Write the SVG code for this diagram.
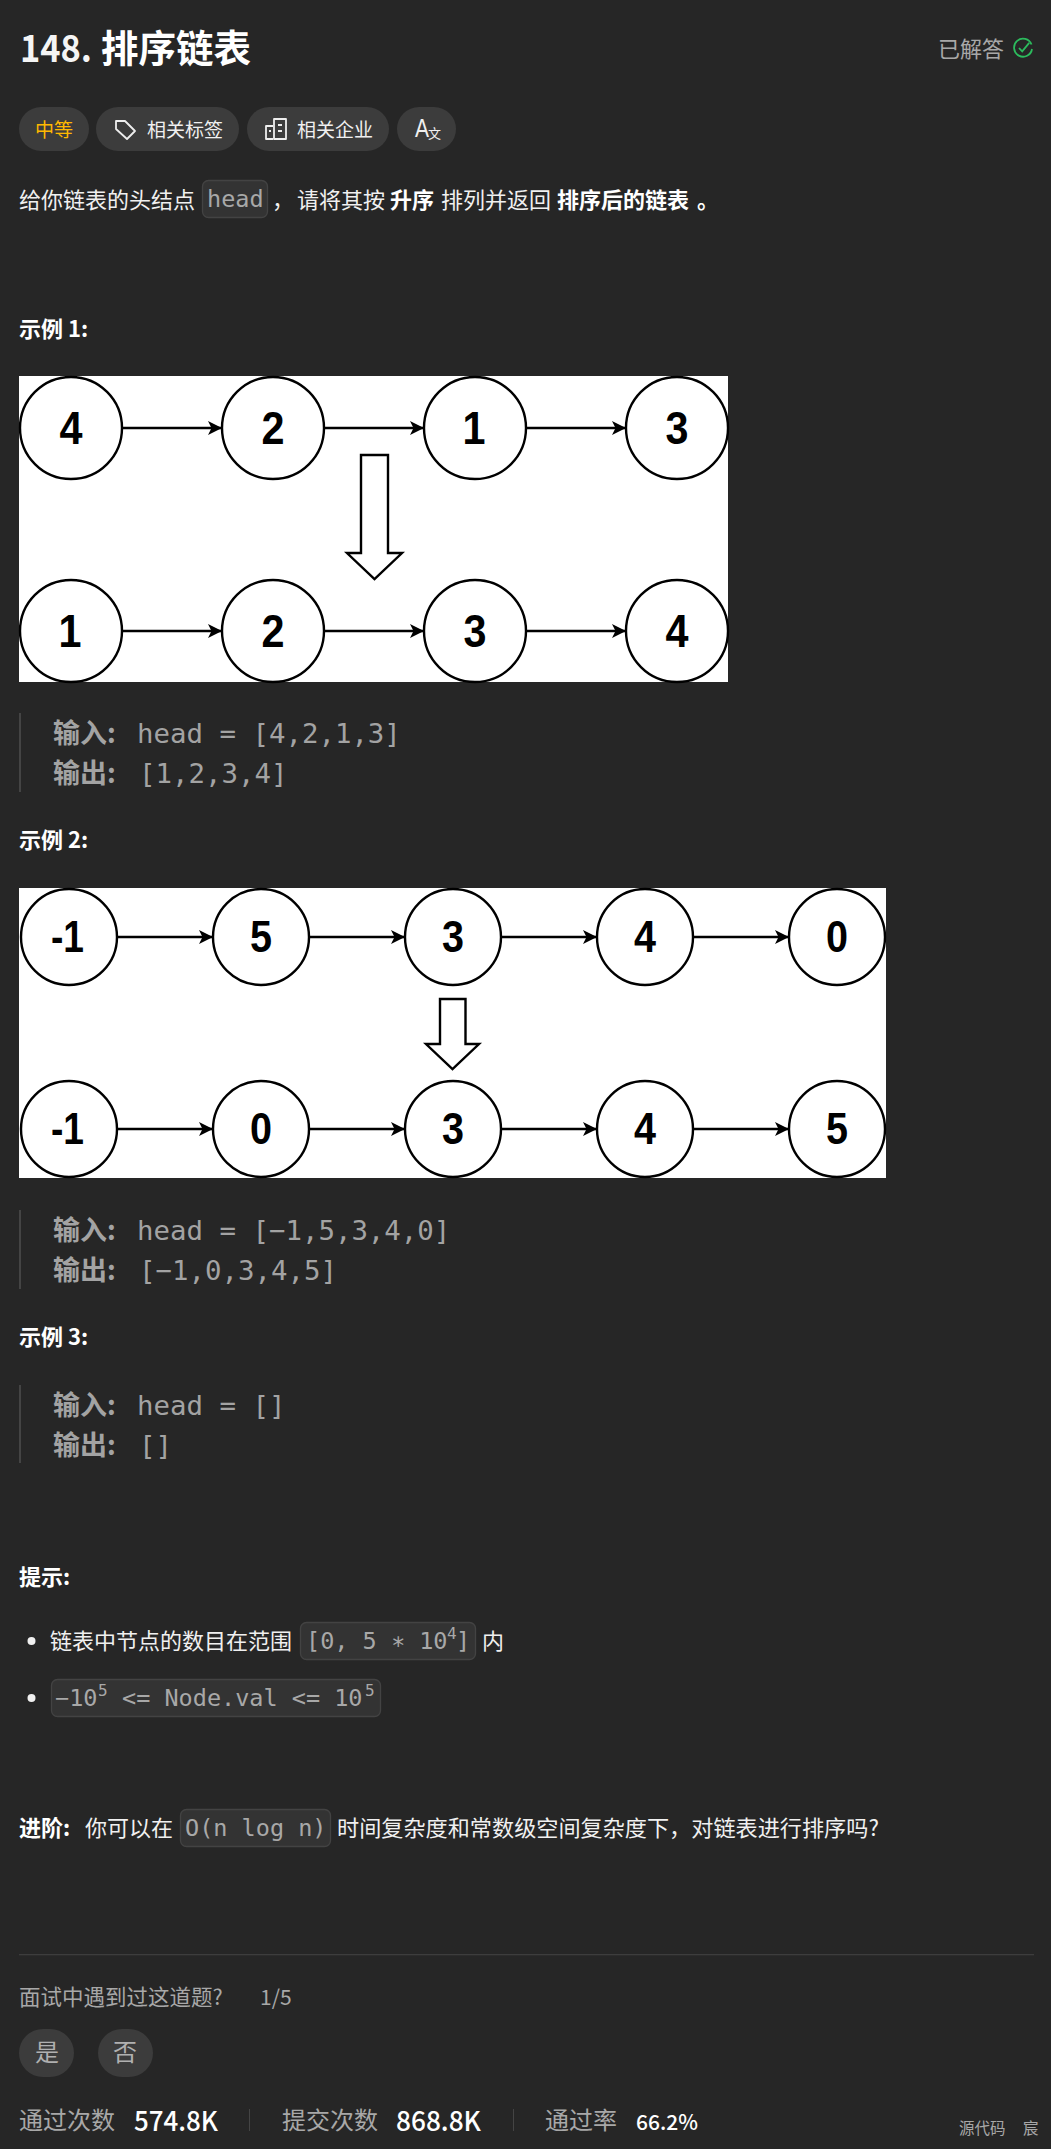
<svg xmlns="http://www.w3.org/2000/svg" width="1051" height="2149" viewBox="0 0 1051 2149">
<style>
text{font-family:"Noto Sans CJK SC","Noto Sans",sans-serif;fill:#f0f0f0;font-size:22px}
.b{font-weight:700;fill:#fff}
.m{font-family:"DejaVu Sans Mono","Liberation Mono",monospace}
.q{font-size:27.400px;fill:#a3a3a3}
.qb{font-size:27px;fill:#a3a3a3;font-weight:700}
.code{fill:#333;stroke:#434343;stroke-width:1.3}
.cm{font-family:"DejaVu Sans Mono","Liberation Mono",monospace;font-size:23.500px;fill:#a8a8a8}
.sup{font-family:"DejaVu Sans Mono","Liberation Mono",monospace;font-size:16px;fill:#a8a8a8}
.pill{fill:#3c3c3c}
.n{fill:#fff;stroke:#000;stroke-width:2.4}
.t1{font-family:"Liberation Sans",Arial,sans-serif;font-weight:700;font-size:46px;fill:#000;text-anchor:middle}
.t2{font-family:"Liberation Sans",Arial,sans-serif;font-weight:700;font-size:44px;fill:#000;text-anchor:middle}
.c{stroke:#000;stroke-width:2.4;fill:none;marker-end:url(#ah)}
.big{fill:#fff;stroke:#000;stroke-width:2.4}
.bar{fill:#444}
.ic{fill:none;stroke:#eee;stroke-width:1.8;stroke-linejoin:round}
</style>
<defs>
<marker id="ah" markerUnits="userSpaceOnUse" markerWidth="16" markerHeight="16" refX="14" refY="7" orient="auto"><path d="M0 0L14 7L0 14L3.500 7Z" fill="#000"/></marker>
</defs>
<rect width="1051" height="2149" fill="#262626"/>

<g id="header">
<text x="20" y="62" style="font-size:37px;font-weight:700;fill:#f5f5f5" textLength="72" lengthAdjust="spacingAndGlyphs">148.</text>
<text x="101" y="62" class="b" style="font-size:37.500px">排序链表</text>
<text x="938" y="57" style="font-size:22px;fill:#a8a8a8">已解答</text>
<path d="M1031.500 44.500A9 9 0 1 0 1032 49" fill="none" stroke="#2cbb5d" stroke-width="1.8"/>
<path d="M1019 48l3.200 3.400 7-8.500" fill="none" stroke="#2cbb5d" stroke-width="1.8"/>
</g>

<g id="tags">
<rect class="pill" x="19" y="107" width="70" height="44" rx="22"/>
<text x="35" y="137" style="font-size:19px;fill:#ffb800">中等</text>
<rect class="pill" x="96" y="107" width="143" height="44" rx="22"/>
<path class="ic" d="M116 121h9l10 10-8 8-11-10z"/>
<text x="147" y="137" style="font-size:19px">相关标签</text>
<rect class="pill" x="247" y="107" width="142" height="44" rx="22"/>
<path class="ic" d="M273 126h-7v13h7M274 119h12v20h-12zM278 125h4M278 131h4M269 131h2"/>
<text x="297" y="137" style="font-size:19px">相关企业</text>
<rect class="pill" x="397" y="107" width="59" height="44" rx="22"/>
<text x="415" y="137" style="font-family:'Liberation Sans',sans-serif;font-size:25px" textLength="14" lengthAdjust="spacingAndGlyphs">A</text>
<text x="428" y="138" style="font-size:13px">文</text>
</g>

<g id="intro">
<text x="19" y="208">给你链表的头结点</text>
<rect class="code" x="202.500" y="180.500" width="65" height="37" rx="6"/>
<text class="cm" x="207" y="207">head</text>
<text x="272" y="208">，</text>
<text x="297" y="208">请将其按</text>
<text x="390" y="208" class="b">升序</text>
<text x="441" y="208">排列并返回</text>
<text x="557" y="208" class="b">排序后的链表</text>
<text x="697" y="208" class="b">。</text>
</g>

<text x="19" y="337" class="b" style="font-size:22px">示例 1:</text>

<g id="figure1">
<rect x="19" y="376" width="709" height="306" fill="#fff"/>
<g id="connectors1">
<path class="c" d="M122 428H222"/><path class="c" d="M324 428H424"/><path class="c" d="M526 428H626"/>
<path class="c" d="M122 631H222"/><path class="c" d="M324 631H424"/><path class="c" d="M526 631H626"/>
</g>
<g id="n1a"><circle class="n" cx="71" cy="428" r="51"/><text class="t1" x="71" y="444" textLength="23" lengthAdjust="spacingAndGlyphs">4</text></g>
<g id="n1b"><circle class="n" cx="273" cy="428" r="51"/><text class="t1" x="273" y="444" textLength="23" lengthAdjust="spacingAndGlyphs">2</text></g>
<g id="n1c"><circle class="n" cx="475" cy="428" r="51"/><text class="t1" x="474" y="444" textLength="23" lengthAdjust="spacingAndGlyphs">1</text></g>
<g id="n1d"><circle class="n" cx="677" cy="428" r="51"/><text class="t1" x="677" y="444" textLength="23" lengthAdjust="spacingAndGlyphs">3</text></g>
<g id="n1e"><circle class="n" cx="71" cy="631" r="51"/><text class="t1" x="70" y="647" textLength="23" lengthAdjust="spacingAndGlyphs">1</text></g>
<g id="n1f"><circle class="n" cx="273" cy="631" r="51"/><text class="t1" x="273" y="647" textLength="23" lengthAdjust="spacingAndGlyphs">2</text></g>
<g id="n1g"><circle class="n" cx="475" cy="631" r="51"/><text class="t1" x="475" y="647" textLength="23" lengthAdjust="spacingAndGlyphs">3</text></g>
<g id="n1h"><circle class="n" cx="677" cy="631" r="51"/><text class="t1" x="677" y="647" textLength="23" lengthAdjust="spacingAndGlyphs">4</text></g>
<path id="down1" class="big" d="M361 455H388V553H402L374.500 579L347 553H361Z"/>
</g>

<g id="quote1">
<rect class="bar" x="19" y="713" width="2" height="79"/>
<text class="qb" x="53" y="743">输入:</text>
<text class="q m" x="137" y="743">head = [4,2,1,3]</text>
<text class="qb" x="53" y="783">输出:</text>
<text class="q m" x="139" y="783">[1,2,3,4]</text>
</g>

<text x="19" y="848" class="b" style="font-size:22px">示例 2:</text>

<g id="figure2">
<rect x="19" y="888" width="867" height="290" fill="#fff"/>
<g id="connectors2">
<path class="c" d="M117 937H213"/><path class="c" d="M309 937H405"/><path class="c" d="M501 937H597"/><path class="c" d="M693 937H789"/>
<path class="c" d="M117 1129H213"/><path class="c" d="M309 1129H405"/><path class="c" d="M501 1129H597"/><path class="c" d="M693 1129H789"/>
</g>
<g id="n2a"><circle class="n" cx="69" cy="937" r="48"/><text class="t2" x="67.500" y="952" textLength="33" lengthAdjust="spacingAndGlyphs">-1</text></g>
<g id="n2b"><circle class="n" cx="261" cy="937" r="48"/><text class="t2" x="261" y="952" textLength="22" lengthAdjust="spacingAndGlyphs">5</text></g>
<g id="n2c"><circle class="n" cx="453" cy="937" r="48"/><text class="t2" x="453" y="952" textLength="22" lengthAdjust="spacingAndGlyphs">3</text></g>
<g id="n2d"><circle class="n" cx="645" cy="937" r="48"/><text class="t2" x="645" y="952" textLength="22" lengthAdjust="spacingAndGlyphs">4</text></g>
<g id="n2e"><circle class="n" cx="837" cy="937" r="48"/><text class="t2" x="837" y="952" textLength="22" lengthAdjust="spacingAndGlyphs">0</text></g>
<g id="n2f"><circle class="n" cx="69" cy="1129" r="48"/><text class="t2" x="67.500" y="1144" textLength="33" lengthAdjust="spacingAndGlyphs">-1</text></g>
<g id="n2g"><circle class="n" cx="261" cy="1129" r="48"/><text class="t2" x="261" y="1144" textLength="22" lengthAdjust="spacingAndGlyphs">0</text></g>
<g id="n2h"><circle class="n" cx="453" cy="1129" r="48"/><text class="t2" x="453" y="1144" textLength="22" lengthAdjust="spacingAndGlyphs">3</text></g>
<g id="n2i"><circle class="n" cx="645" cy="1129" r="48"/><text class="t2" x="645" y="1144" textLength="22" lengthAdjust="spacingAndGlyphs">4</text></g>
<g id="n2j"><circle class="n" cx="837" cy="1129" r="48"/><text class="t2" x="837" y="1144" textLength="22" lengthAdjust="spacingAndGlyphs">5</text></g>
<path id="down2" class="big" d="M440 999H465.500V1044H479L452.500 1069L426 1044H440Z"/>
</g>

<g id="quote2">
<rect class="bar" x="19" y="1210" width="2" height="79"/>
<text class="qb" x="53" y="1240">输入:</text>
<text class="q m" x="137" y="1240">head = [−1,5,3,4,0]</text>
<text class="qb" x="53" y="1280">输出:</text>
<text class="q m" x="139" y="1280">[−1,0,3,4,5]</text>
</g>

<text x="19" y="1345" class="b" style="font-size:22px">示例 3:</text>

<g id="quote3">
<rect class="bar" x="19" y="1385" width="2" height="78"/>
<text class="qb" x="53" y="1415">输入:</text>
<text class="q m" x="137" y="1415">head = []</text>
<text class="qb" x="53" y="1455">输出:</text>
<text class="q m" x="139" y="1455">[]</text>
</g>

<text x="19" y="1585" class="b" style="font-size:22px">提示:</text>

<g id="hints">
<circle cx="31.500" cy="1641" r="4" fill="#f0f0f0"/>
<text x="50" y="1649">链表中节点的数目在范围</text>
<rect class="code" x="300.500" y="1622.500" width="175" height="37" rx="6"/>
<text class="cm" x="306" y="1649">[0, 5 ∗ 10</text>
<text class="sup" x="447" y="1639">4</text>
<text class="cm" x="456" y="1649">]</text>
<text x="482" y="1649">内</text>
<circle cx="31.500" cy="1698" r="4" fill="#f0f0f0"/>
<rect class="code" x="51.500" y="1679.500" width="329" height="37" rx="6"/>
<text class="cm" x="55" y="1706">−10</text>
<text class="sup" x="98" y="1696">5</text>
<text class="cm" x="122" y="1706">&lt;= Node.val &lt;= 10</text>
<text class="sup" x="365" y="1696">5</text>
</g>

<g id="followup">
<text x="19" y="1836" class="b">进阶:</text>
<text x="85" y="1836">你可以在</text>
<rect class="code" x="180.500" y="1809.500" width="150" height="37" rx="6"/>
<text class="cm" x="185" y="1836">O(n log n)</text>
<text x="337" y="1836" style="font-size:22.150px">时间复杂度和常数级空间复杂度下，对链表进行排序吗?</text>
</g>

<rect x="19" y="1954" width="1015" height="1.300" fill="#3d3d3d"/>

<g id="footer">
<text x="19" y="2005" style="font-size:21.500px;fill:#a8a8a8">面试中遇到过这道题?</text>
<text x="260" y="2005" style="font-size:21px;fill:#a8a8a8">1/5</text>
<rect class="pill" x="19" y="2029" width="55" height="48" rx="24"/>
<text x="35" y="2061" style="font-size:24px;fill:#b0b0b0">是</text>
<rect class="pill" x="98" y="2029" width="55" height="48" rx="24"/>
<text x="113" y="2061" style="font-size:24px;fill:#b0b0b0">否</text>
<text x="19" y="2129" style="font-size:24px;fill:#a8a8a8">通过次数</text>
<text x="134" y="2131" class="b" style="font-size:27px;font-weight:500" textLength="84" lengthAdjust="spacingAndGlyphs">574.8K</text>
<rect x="249" y="2109" width="1" height="22" fill="#444"/>
<text x="282" y="2129" style="font-size:24px;fill:#a8a8a8">提交次数</text>
<text x="396" y="2131" class="b" style="font-size:27px;font-weight:500" textLength="85" lengthAdjust="spacingAndGlyphs">868.8K</text>
<rect x="513" y="2109" width="1" height="22" fill="#444"/>
<text x="545" y="2129" style="font-size:24px;fill:#a8a8a8">通过率</text>
<text x="636" y="2130" class="b" style="font-size:21px;font-weight:500">66.2%</text>
<text x="959" y="2134" style="font-size:15.500px;fill:#a8a8a8">源代码</text>
<text x="1023" y="2134" style="font-size:15.500px;fill:#a8a8a8">宸</text>
</g>
</svg>
